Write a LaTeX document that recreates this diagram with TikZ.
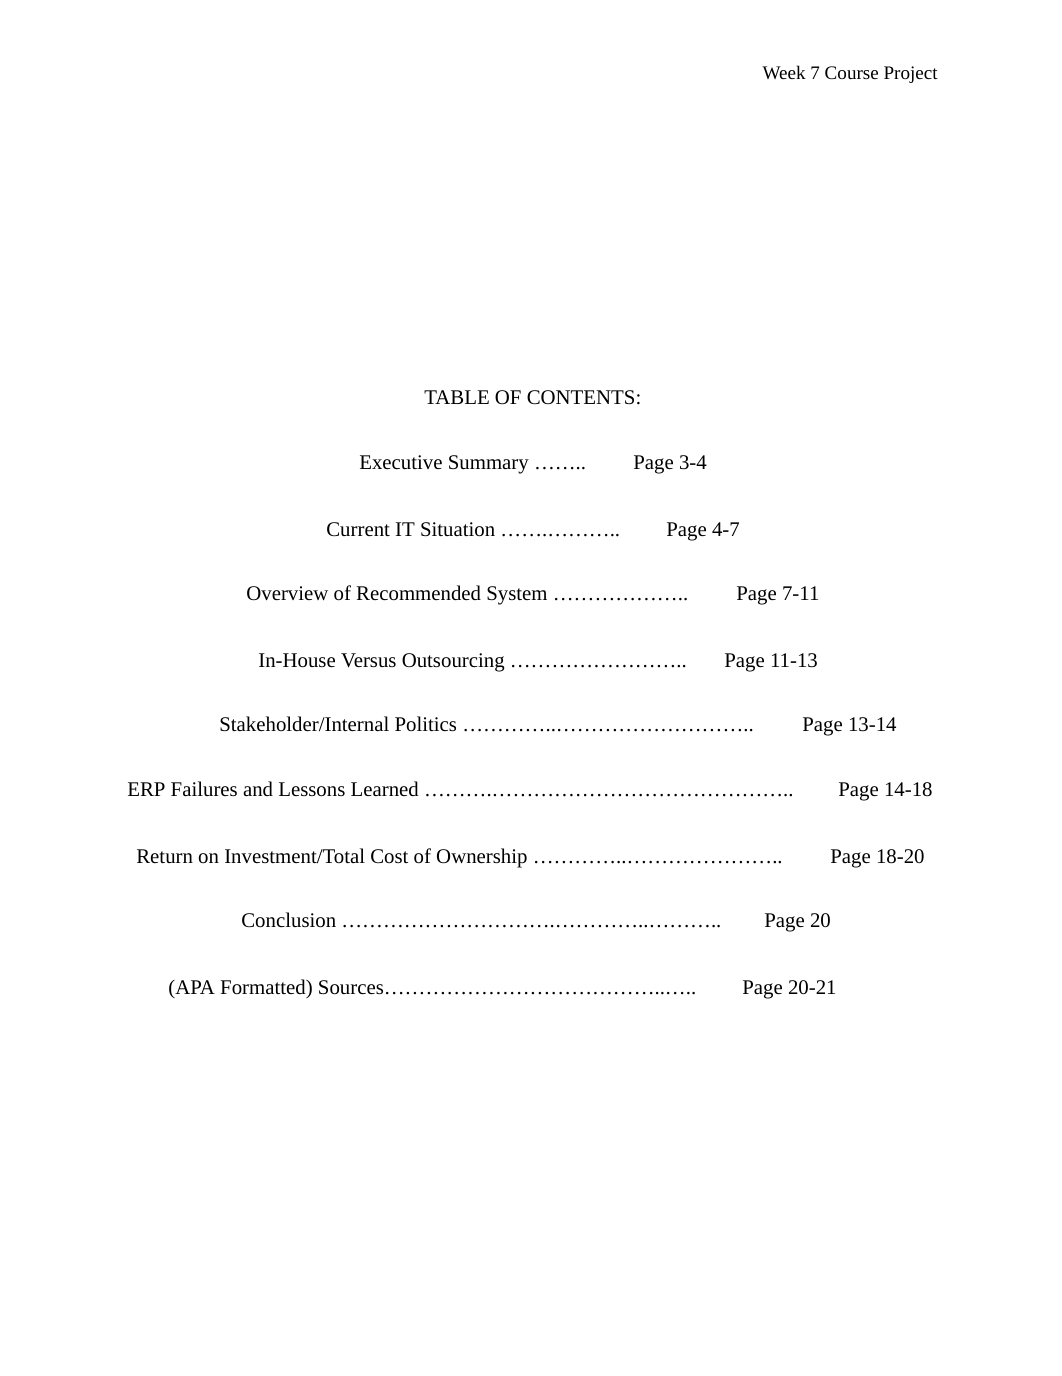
\documentclass[tikz,border=0pt]{standalone}
\usepackage{fontspec}
\setmainfont{Liberation Serif}
\usetikzlibrary{positioning}
\tikzset{
  entry/.style={anchor=base west, inner sep=0pt, font=\fontsize{12bp}{14bp}\selectfont},
  pagenum/.style={entry}
}

\begin{document}
\begin{tikzpicture}[x=0.5763bp, y=-0.5763bp]
    \useasboundingbox[fill=white] (0,0) rectangle (1062,1376);
    % running head
    \path (938,79) node[anchor=base east, inner sep=0pt, font=\fontsize{11bp}{13bp}\selectfont] (head) {Week 7 Course Project};
    % title
    \path (424,404) node[entry] (title) {TABLE OF CONTENTS:};
    % entries, each with its page number
    \path (359,469) node[entry] (entry1) {Executive Summary ……..};
    \path (633,469) node[pagenum] (page1) {Page 3-4};
    \path (326,536) node[entry] (entry2) {Current IT Situation …….………..};
    \path (666,536) node[pagenum] (page2) {Page 4-7};
    \path (246,600) node[entry] (entry3) {Overview of Recommended System ………………..};
    \path (736,600) node[pagenum] (page3) {Page 7-11};
    \path (258,667) node[entry] (entry4) {In-House Versus Outsourcing ……………………..};
    \path (724,667) node[pagenum] (page4) {Page 11-13};
    \path (219,731) node[entry] (entry5) {Stakeholder/Internal Politics …………..………………………..};
    \path (802,731) node[pagenum] (page5) {Page 13-14};
    \path (127,796) node[entry] (entry6) {ERP Failures and Lessons Learned ……….……………………………………..};
    \path (838,796) node[pagenum] (page6) {Page 14-18};
    \path (136,863) node[entry] (entry7) {Return on Investment/Total Cost of Ownership …………..…………………..};
    \path (830,863) node[pagenum] (page7) {Page 18-20};
    \path (241,927) node[entry] (entry8) {Conclusion ………………………….…………..………..};
    \path (764,927) node[pagenum] (page8) {Page 20};
    \path (168,994) node[entry] (entry9) {(APA Formatted) Sources…………………………………..…..};
    \path (742,994) node[pagenum] (page9) {Page 20-21};
  \end{tikzpicture}
\end{document}
